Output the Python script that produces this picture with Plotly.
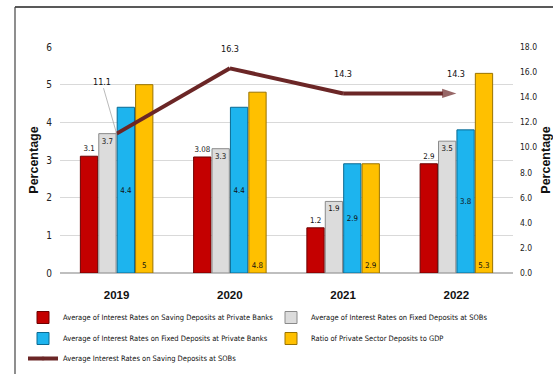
import plotly.graph_objects as go

# ---- data ----
years = ["2019", "2020", "2021", "2022"]
saving_private = [3.1, 3.08, 1.2, 2.9]
fixed_sob = [3.7, 3.3, 1.9, 3.5]
fixed_private = [4.4, 4.4, 2.9, 3.8]
deposits_gdp = [5.0, 4.8, 2.9, 5.3]
saving_sob = [11.1, 16.3, 14.3, 14.3]

names = [
    "Average of Interest Rates on Saving Deposits at Private Banks",
    "Average of Interest Rates on Fixed Deposits at SOBs",
    "Average of Interest Rates on Fixed Deposits at Private Banks",
    "Ratio of Private Sector Deposits to GDP",
    "Average Interest Rates on Saving Deposits at SOBs",
]

W, H = 553, 374
ML, MR, MT, MB = 60, 40, 47, 101
PW, PH = W - ML - MR, H - MT - MB

NARROW = "Liberation Sans Narrow, DejaVu Sans Condensed, Arial Narrow, sans-serif"
LBL = dict(family=NARROW, size=9, color="#111111")


def px_x(px):
    return (px - ML) / PW


def px_y(py):
    return (H - MB - py) / PH


fig = go.Figure()

# legend row that each series sits in
legend_rows = ["legend", "legend", "legend2", "legend2", "legend3"]

bar_specs = [
    (saving_private, "#C40000", "#6E0000", "outside", "end"),
    (fixed_sob, "#DCDCDC", "#8A8A8A", "inside", "end"),
    (fixed_private, "#1DB4EE", "#0B6A92", "inside", "middle"),
    (deposits_gdp, "#FFC000", "#9A7300", "inside", "start"),
]
for k, ((vals, color, edge, pos, anchor), name) in enumerate(zip(bar_specs, names)):
    fig.add_trace(go.Bar(
        x=years, y=vals, name=name, legend=legend_rows[k],
        marker=dict(color=color, line=dict(color=edge, width=1)),
        text=[f"{v:g}" for v in vals],
        textposition=pos, insidetextanchor=anchor, textangle=0,
        textfont=LBL, outsidetextfont=LBL, insidetextfont=LBL,
        cliponaxis=False,
    ))

fig.add_trace(go.Scatter(
    x=years, y=saving_sob, name=names[4], yaxis="y2", legend=legend_rows[4],
    mode="lines+markers",
    line=dict(color="#6B2626", width=4),
    marker=dict(symbol=["circle", "circle", "circle", "arrow"],
                size=[0, 0, 0, 15], angleref="previous",
                color="#6B2626", line=dict(width=0)),
    cliponaxis=False,
))

# value labels for the line (x given as category index)
annotations = []
for i, v in enumerate(saving_sob):
    if i == 0:
        annotations.append(dict(x=i, y=v, xref="x", yref="y2", text=f"{v:g}",
                                showarrow=True, arrowhead=0, arrowwidth=0.8,
                                arrowcolor="#A8A8A8", ax=-15, ay=-52,
                                standoff=0, font=LBL))
    else:
        annotations.append(dict(x=i, y=v, xref="x", yref="y2", text=f"{v:g}",
                                showarrow=False, yshift=19, font=LBL))

# outer frame (top and left edges)
shapes = [
    dict(type="line", xref="paper", yref="paper",
         x0=px_x(15), x1=px_x(W + 5), y0=px_y(7), y1=px_y(7),
         line=dict(color="#222222", width=1.5)),
    dict(type="line", xref="paper", yref="paper",
         x0=px_x(15), x1=px_x(15), y0=px_y(7), y1=px_y(H + 5),
         line=dict(color="#444444", width=1.2)),
]

TITLE_FONT = dict(family="Liberation Sans, Arial, sans-serif",
                  size=12.5, color="#111111", weight="bold")


def legend_row(center_py):
    return dict(
        orientation="h", x=px_x(23), xanchor="left",
        y=px_y(center_py - 10), yanchor="top",
        entrywidth=203, entrywidthmode="pixels",
        font=dict(family=NARROW, size=7.5, color="#111111"),
        itemwidth=30, traceorder="normal",
        bgcolor="rgba(0,0,0,0)",
    )


fig.update_layout(
    width=W, height=H,
    margin=dict(l=ML, r=MR, t=MT, b=MB, autoexpand=False),
    paper_bgcolor="white", plot_bgcolor="white",
    barmode="group", bargap=0.35, bargroupgap=0.06,
    font=dict(family=NARROW, size=10, color="#222222"),
    uniformtext=dict(minsize=7, mode="show"),
    xaxis=dict(
        type="category", showgrid=False, showline=False, ticks="",
        tickfont=dict(family="Liberation Sans, Arial, sans-serif", size=11.5,
                      color="#111111", weight="bold"),
        ticklabelstandoff=13,
    ),
    yaxis=dict(
        range=[0, 6], dtick=1, showgrid=True, gridcolor="#D9D9D9",
        gridwidth=1, zeroline=True, zerolinecolor="#BFBFBF",
        showline=False, ticks="",
        tickfont=dict(family=NARROW, size=10, color="#222222"),
        ticklabelstandoff=7,
        title=dict(text="Percentage", standoff=4, font=TITLE_FONT),
    ),
    yaxis2=dict(
        range=[0, 18], dtick=2, tickformat=".1f", overlaying="y",
        side="right", showgrid=False, zeroline=False, showline=False,
        ticks="", tickfont=dict(family=NARROW, size=8.5, color="#222222"),
        ticklabelstandoff=6,
        title=dict(text="Percentage", standoff=7, font=TITLE_FONT),
    ),
    legend=legend_row(313),
    legend2=legend_row(334),
    legend3=legend_row(354),
    annotations=annotations,
    shapes=shapes,
)

fig.write_html("out.html")
